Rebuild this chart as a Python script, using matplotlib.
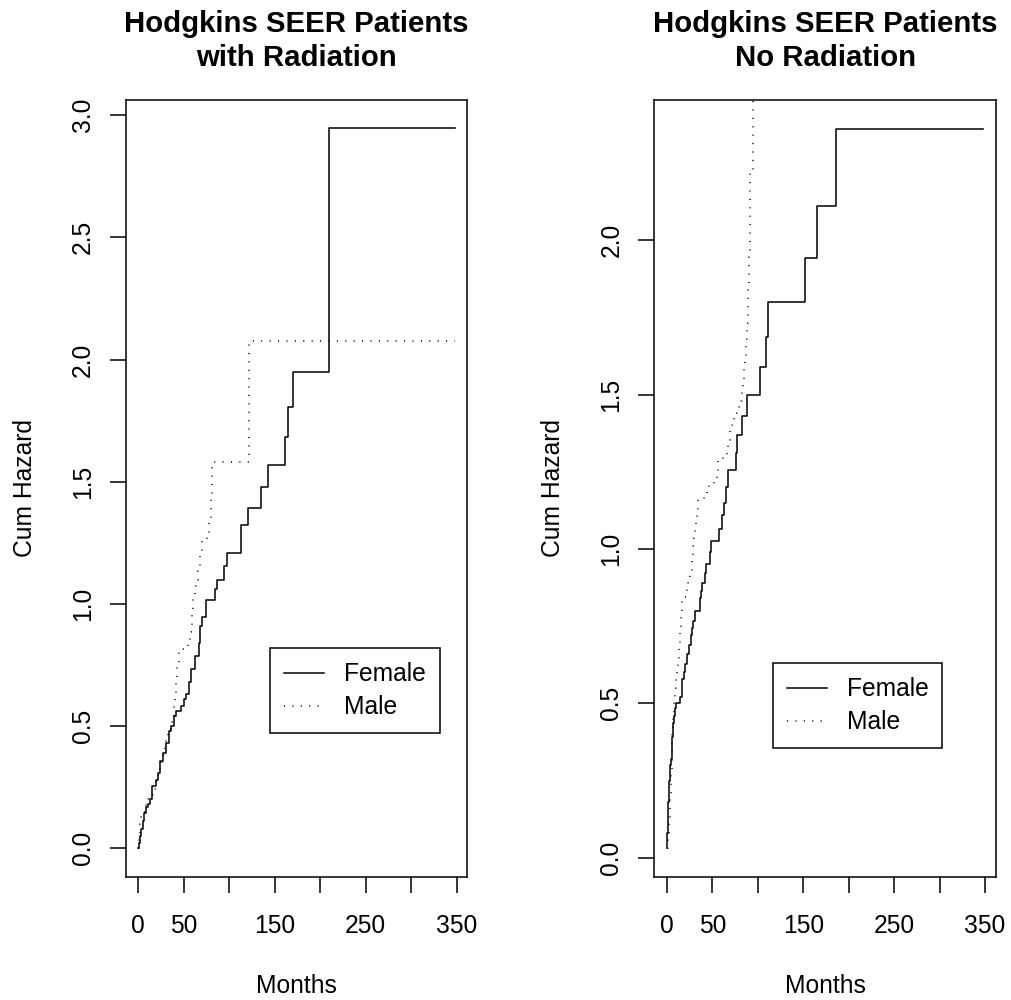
import matplotlib
matplotlib.use("Agg")
import matplotlib.pyplot as plt

plt.rcParams['font.family'] = ['Liberation Sans', 'DejaVu Sans']

# ---------------- data ----------------
# Left panel: with radiation
rad_female_t = [0, 1, 2, 3, 5, 6.5, 9, 11, 13, 15.5, 20, 22, 24, 27.5, 31, 34, 36.5,
                39.5, 42, 47.5, 50.5, 53, 55.5, 58, 62.5, 66.5, 68, 69.5, 74.5, 84.5,
                86, 94.5, 97, 112.5, 121, 134.5, 143, 161, 165, 170.5, 209.5, 348]
rad_female_h = [0.0, 0.02, 0.05, 0.08, 0.11, 0.146, 0.17, 0.18, 0.20, 0.255, 0.28, 0.31,
                0.358, 0.392, 0.433, 0.481, 0.50, 0.542, 0.563, 0.583, 0.611, 0.631,
                0.679, 0.734, 0.788, 0.84, 0.911, 0.945, 1.017, 1.061, 1.097, 1.157,
                1.209, 1.325, 1.393, 1.477, 1.570, 1.682, 1.805, 1.949, 2.946, 2.946]

rad_male_t = [0, 0.5, 1.5, 3, 5, 8, 11, 14, 17, 20, 22, 24, 26, 27.5, 29.5, 31, 33,
              36.5, 39.5, 40.5, 41, 42, 43, 45, 51.5, 55, 57.5, 58.5, 60.5, 62.5, 64,
              66, 68, 70, 76, 78, 79.5, 80.5, 81, 122, 348]
rad_male_h = [0.0, 0.04, 0.098, 0.13, 0.15, 0.18, 0.20, 0.22, 0.242, 0.29, 0.32, 0.344,
              0.375, 0.406, 0.43, 0.461, 0.49, 0.515, 0.583, 0.62, 0.652, 0.70, 0.747,
              0.816, 0.829, 0.857, 0.884, 0.966, 1.02, 1.075, 1.10, 1.136, 1.20, 1.266,
              1.28, 1.35, 1.43, 1.50, 1.58, 2.077, 2.077]

# Right panel: no radiation
norad_female_t = [0, 0.5, 1, 1.5, 2, 2.5, 3, 3.5, 4, 5, 6, 7, 8, 9, 10, 14.5, 16, 17,
                  18.7, 20, 22, 24, 26, 28, 29, 30.8, 36, 37, 38.1, 41.8, 43, 47, 48.4,
                  57.6, 60, 62.5, 64.5, 67, 75.5, 76.6, 82.9, 87.7, 102.3, 109, 111.5,
                  152, 164.5, 185.5, 348]
norad_female_h = [0.03, 0.08, 0.13, 0.18, 0.22, 0.25, 0.28, 0.30, 0.32, 0.345, 0.39,
                  0.435, 0.46, 0.485, 0.50, 0.52, 0.56, 0.58, 0.60, 0.627, 0.66, 0.69,
                  0.72, 0.745, 0.767, 0.80, 0.84, 0.865, 0.889, 0.921, 0.952, 0.99,
                  1.025, 1.065, 1.109, 1.15, 1.201, 1.255, 1.31, 1.369, 1.430, 1.498,
                  1.590, 1.687, 1.800, 1.943, 2.110, 2.359, 2.359]

norad_male_t = [0, 1, 2, 3, 4, 5, 6, 7, 8, 9, 10, 11, 12, 13, 14, 15, 16, 17, 21.5,
                22.5, 23.5, 25.5, 27, 28, 29, 30, 31, 32, 33, 34, 34.5, 44, 46, 52, 55,
                56.5, 65.5, 67, 69, 71, 74, 76.5, 81, 82, 83, 84, 85, 85.8, 86.8, 87.7,
                88.6, 89.5, 90, 90.6, 91, 91.3, 95, 100]
norad_male_h = [0.03, 0.08, 0.13, 0.19, 0.27, 0.35, 0.41, 0.46, 0.51, 0.55, 0.58, 0.61,
                0.64, 0.68, 0.73, 0.79, 0.83, 0.845, 0.86, 0.89, 0.91, 0.93, 0.955,
                0.98, 1.01, 1.035, 1.06, 1.085, 1.11, 1.14, 1.165, 1.19, 1.21, 1.23,
                1.25, 1.293, 1.32, 1.353, 1.385, 1.417, 1.44, 1.46, 1.48, 1.504, 1.525,
                1.547, 1.585, 1.622, 1.68, 1.731, 1.785, 1.838, 1.89, 1.946, 2.0,
                2.227, 3.2, 3.2]

titles = [["Hodgkins SEER Patients", "with Radiation"],
          ["Hodgkins SEER Patients", "No Radiation"]]
legend_labels = ["Female", "Male"]
x_ticks = [0, 50, 100, 150, 200, 250, 300, 350]
x_ticklabels = ["0", "50", "", "150", "", "250", "", "350"]
y_ticks_left = [0.0, 0.5, 1.0, 1.5, 2.0, 2.5, 3.0]
y_ticks_right = [0.0, 0.5, 1.0, 1.5, 2.0]

# ---------------- figure ----------------
W, H = 1011, 1000
fig = plt.figure(figsize=(W / 100, H / 100), dpi=100)

FS = 17.7
LW = 1.1
DOT = (0, (0.7, 4.8))

panels = [
    dict(rect=[126 / W, 1 - 876.7 / H, 340.7 / W, 776.7 / H],
         xlim=(-13.5, 361), ylim=(-0.116, 3.062), yticks=y_ticks_left,
         f=(rad_female_t, rad_female_h), m=(rad_male_t, rad_male_h),
         title=titles[0], leg=(0.4227, 0.2941)),
    dict(rect=[654.3 / W, 1 - 876.7 / H, 341.7 / W, 776.7 / H],
         xlim=(-14, 362), ylim=(-0.0615, 2.454), yticks=y_ticks_right,
         f=(norad_female_t, norad_female_h), m=(norad_male_t, norad_male_h),
         title=titles[1], leg=(0.3465, 0.2748)),
]

for p in panels:
    ax = fig.add_axes(p['rect'])
    ax.plot(p['f'][0], p['f'][1], drawstyle='steps-post', color='black',
            lw=LW, label=legend_labels[0])
    ax.plot(p['m'][0], p['m'][1], drawstyle='steps-post', color='black',
            lw=LW, linestyle=DOT, label=legend_labels[1])
    ax.set_xlim(*p['xlim'])
    ax.set_ylim(*p['ylim'])
    ax.set_xticks(x_ticks)
    ax.set_xticklabels(x_ticklabels)
    ax.set_yticks(p['yticks'])
    ax.set_yticklabels([f"{v:.1f}" for v in p['yticks']])
    for s in ax.spines.values():
        s.set_linewidth(LW)
        s.set_color('black')
    ax.tick_params(axis='both', direction='out', length=11.2, width=LW,
                   labelsize=FS, colors='black')
    ax.tick_params(axis='x', pad=16)
    ax.tick_params(axis='y', pad=11)
    for lab in ax.get_yticklabels():
        lab.set_rotation(90)
        lab.set_va('center')
    ax.set_xlabel("Months", fontsize=FS)
    ax.xaxis.label.set_va('baseline')
    ax.xaxis.set_label_coords(0.5, -0.14935)
    ax.set_ylabel("Cum Hazard", fontsize=FS)
    ax.yaxis.label.set_va('baseline')
    ax.yaxis.set_label_coords(-94.3 / (p['rect'][2] * W), 0.5)
    ax.text(0.5, 1.0871, p['title'][0], transform=ax.transAxes, ha='center',
            va='baseline', fontsize=21.2, fontweight='bold')
    ax.text(0.5, 1.0438, p['title'][1], transform=ax.transAxes, ha='center',
            va='baseline', fontsize=21.2, fontweight='bold')
    leg = ax.legend(loc='upper left', bbox_to_anchor=p['leg'], borderaxespad=0,
                    fontsize=FS, handlelength=1.63, handletextpad=0.81,
                    borderpad=0.57, labelspacing=0.37, fancybox=False,
                    framealpha=1, edgecolor='black')
    leg.get_frame().set_linewidth(LW)

fig.savefig("out.png", dpi=100)
